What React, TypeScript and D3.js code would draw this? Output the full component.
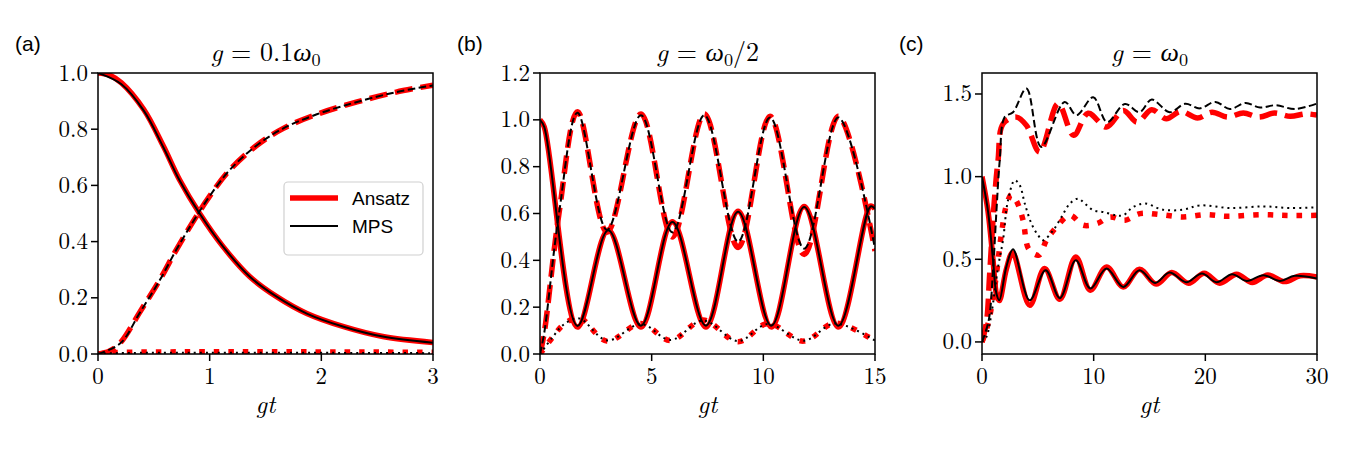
import React from 'react';
import * as d3 from 'd3';

type P = [number, number];

// ---------------- Panel (a): g = 0.1 w0 ----------------
const aXTicks = [0, 1, 2, 3];
const aYTicks = [0, 0.2, 0.4, 0.6, 0.8, 1.0];
const aSolidAnsatz: P[] = [[0, 1.0], [0.1, 0.993], [0.21, 0.965], [0.41, 0.87], [0.585, 0.74], [0.73, 0.62], [0.91, 0.5], [1.12, 0.382], [1.36, 0.275], [1.6, 0.204], [1.87, 0.144], [2.2, 0.097], [2.55, 0.062], [3.0, 0.041]];
const aSolidMps: P[] = [[0, 1.0], [0.21, 0.96], [0.41, 0.866], [0.585, 0.736], [0.73, 0.618], [0.91, 0.5], [1.12, 0.382], [1.36, 0.275], [1.6, 0.204], [1.87, 0.144], [2.2, 0.097], [2.55, 0.062], [3.0, 0.04]];
const aDashedAnsatz: P[] = [[0, 0.0], [0.1, 0.01], [0.2, 0.04], [0.376, 0.15], [0.555, 0.265], [0.7, 0.37], [0.85, 0.47], [1.0, 0.562], [1.18, 0.655], [1.42, 0.742], [1.66, 0.803], [1.96, 0.853], [2.32, 0.897], [2.67, 0.932], [3.0, 0.957]];
const aDashedMps: P[] = [[0, 0.0], [0.2, 0.038], [0.376, 0.148], [0.555, 0.264], [0.7, 0.37], [0.85, 0.47], [1.0, 0.562], [1.18, 0.655], [1.42, 0.742], [1.66, 0.803], [1.96, 0.853], [2.32, 0.897], [2.67, 0.932], [3.0, 0.956]];
const aDottedAnsatz: P[] = [[0, 0.0], [0.15, 0.005], [3.0, 0.006]];
const aDottedMps: P[] = [[0, 0.0], [0.15, 0.003], [3.0, 0.003]];

// ---------------- Panel (b): g = w0/2 ----------------
const bXTicks = [0, 5, 10, 15];
const bYTicks = [0, 0.2, 0.4, 0.6, 0.8, 1.0, 1.2];
const bSolidAnsatz: P[] = [[0, 1.0], [0.19, 0.97], [1.68, 0.115], [3.06, 0.53], [4.52, 0.115], [5.93, 0.565], [7.43, 0.115], [8.87, 0.61], [10.36, 0.115], [11.83, 0.63], [13.36, 0.115], [14.8, 0.632], [15, 0.62]];
const bSolidMps: P[] = [[0, 1.0], [0.19, 0.97], [1.68, 0.12], [3.06, 0.528], [4.52, 0.121], [5.93, 0.564], [7.43, 0.121], [8.87, 0.607], [10.36, 0.121], [11.83, 0.628], [13.36, 0.121], [14.8, 0.63], [15, 0.62]];
const bDashedAnsatz: P[] = [[0, 0.0], [0.19, 0.09], [0.85, 0.6], [1.68, 1.035], [3.0, 0.52], [4.52, 1.025], [5.93, 0.5], [7.36, 1.025], [8.87, 0.455], [10.3, 1.015], [11.83, 0.425], [13.36, 1.015], [15, 0.44]];
const bDashedMps: P[] = [[0, 0.0], [0.19, 0.09], [0.85, 0.6], [1.68, 1.03], [3.0, 0.53], [4.52, 1.02], [5.93, 0.52], [7.36, 1.02], [8.87, 0.48], [10.3, 1.01], [11.83, 0.45], [13.36, 1.01], [15, 0.45]];
const bDottedAnsatz: P[] = [[0, 0.0], [0.55, 0.07], [1.05, 0.125], [1.75, 0.155], [3.0, 0.055], [4.52, 0.13], [5.85, 0.058], [7.3, 0.145], [8.87, 0.052], [10.2, 0.13], [11.8, 0.055], [13.2, 0.132], [15, 0.055]];
const bDottedMps: P[] = [[0, 0.0], [0.55, 0.07], [1.05, 0.125], [1.75, 0.152], [3.0, 0.058], [4.52, 0.128], [5.85, 0.06], [7.3, 0.143], [8.87, 0.055], [10.2, 0.128], [11.8, 0.057], [13.2, 0.13], [15, 0.057]];

// ---------------- Panel (c): g = w0 ----------------
const cXTicks = [0, 10, 20, 30];
const cYTicks = [0, 0.5, 1.0, 1.5];
const cSolidAnsatz: P[] = [[0, 1.0], [0.54, 0.79], [0.99, 0.494], [1.29, 0.29], [1.55, 0.25], [2.18, 0.44], [2.75, 0.54], [4.28, 0.222], [5.6, 0.444], [6.97, 0.258], [8.4, 0.514], [9.7, 0.313], [11.15, 0.454], [12.65, 0.333], [14.1, 0.44], [15.6, 0.35], [17.0, 0.42], [18.5, 0.355], [19.9, 0.415], [21.3, 0.355], [22.8, 0.41], [24.2, 0.36], [25.6, 0.405], [27.1, 0.365], [28.5, 0.4], [30, 0.392]];
const cSolidMps: P[] = [[0, 1.0], [0.54, 0.79], [0.99, 0.494], [1.29, 0.293], [1.55, 0.252], [2.18, 0.454], [2.78, 0.56], [4.27, 0.252], [5.7, 0.434], [6.97, 0.265], [8.4, 0.494], [9.7, 0.323], [11.15, 0.444], [12.65, 0.333], [14.1, 0.434], [15.5, 0.357], [16.8, 0.42], [18.3, 0.361], [19.7, 0.414], [21.0, 0.361], [22.4, 0.41], [23.7, 0.369], [25.2, 0.404], [26.7, 0.369], [28.0, 0.4], [30, 0.384]];
const cDashedAnsatz: P[] = [[0, 0.0], [0.4, 0.12], [0.69, 0.414], [1.1, 0.85], [1.44, 1.1], [1.89, 1.32], [3.08, 1.36], [3.98, 1.31], [5.17, 1.149], [6.82, 1.442], [8.2, 1.25], [9.5, 1.383], [11.15, 1.3], [12.65, 1.4], [13.9, 1.33], [15.2, 1.405], [16.5, 1.35], [17.8, 1.395], [19.3, 1.355], [20.6, 1.39], [22.0, 1.36], [23.4, 1.385], [24.8, 1.36], [26.2, 1.385], [27.6, 1.365], [29.0, 1.38], [30, 1.372]];
const cDashedMps: P[] = [[0, 0.0], [0.6, 0.13], [1.0, 0.45], [1.3, 0.8], [1.59, 1.1], [2.03, 1.36], [2.78, 1.39], [3.98, 1.533], [5.3, 1.18], [7.4, 1.452], [8.46, 1.372], [9.96, 1.48], [11.2, 1.33], [12.8, 1.44], [14.1, 1.39], [15.2, 1.466], [16.8, 1.39], [18.2, 1.441], [19.5, 1.413], [20.9, 1.452], [22.2, 1.409], [23.6, 1.446], [24.9, 1.418], [26.3, 1.432], [28.0, 1.409], [30, 1.442]];
const cDottedAnsatz: P[] = [[0, 0.0], [0.54, 0.11], [1.14, 0.333], [1.74, 0.655], [2.2, 0.83], [2.63, 0.89], [3.1, 0.85], [3.68, 0.736], [4.2, 0.56], [5.1, 0.525], [5.77, 0.615], [6.67, 0.695], [7.87, 0.766], [9.07, 0.706], [10.3, 0.716], [11.45, 0.756], [12.8, 0.736], [14.15, 0.776], [16.0, 0.77], [18.0, 0.756], [20.0, 0.77], [22.0, 0.76], [25.0, 0.77], [27.5, 0.765], [30, 0.766]];
const cDottedMps: P[] = [[0, 0.0], [0.39, 0.03], [0.84, 0.17], [1.44, 0.454], [1.88, 0.615], [2.33, 0.857], [2.93, 0.978], [3.38, 0.948], [3.83, 0.837], [4.43, 0.716], [5.03, 0.645], [5.47, 0.615], [6.37, 0.675], [7.12, 0.756], [7.87, 0.837], [8.61, 0.867], [9.21, 0.837], [9.96, 0.797], [10.85, 0.786], [12.05, 0.766], [12.65, 0.766], [13.55, 0.817], [14.6, 0.837], [16.2, 0.8], [18.0, 0.8], [19.5, 0.826], [22.2, 0.81], [25.2, 0.82], [27.5, 0.81], [30, 0.815]];

const legendLabels = ['Ansatz', 'MPS'];
const panelLabels = ['(a)', '(b)', '(c)'];

// ---------------- layout ----------------
const LEFTS = [98, 540, 982];
const TOP = 73;
const PW = 335;
const PH = 281;
const RED = '#ff0000';
const RED_W = 5.5;
const BLK_W = 2;
const SERIF = '"Latin Modern Roman", "Liberation Serif", serif';
const SANS = '"Liberation Sans", Arial, sans-serif';
const TICK_SIZE = 23;

type Part = { t: string; it?: boolean; sub?: boolean };

const titles: Part[][] = [
  [{ t: 'g', it: true }, { t: ' = 0.1' }, { t: 'ω', it: true }, { t: '0', sub: true }],
  [{ t: 'g', it: true }, { t: ' = ' }, { t: 'ω', it: true }, { t: '0', sub: true }, { t: '/2' }],
  [{ t: 'g', it: true }, { t: ' = ' }, { t: 'ω', it: true }, { t: '0', sub: true }],
];

type PanelDef = {
  xDomain: [number, number];
  yDomain: [number, number];
  xTicks: number[];
  yTicks: number[];
  yFmt: (v: number) => string;
  red: { d: P[]; style: string }[];
  black: { d: P[]; style: string }[];
};

const panels: PanelDef[] = [
  {
    xDomain: [0, 3], yDomain: [0, 1], xTicks: aXTicks, yTicks: aYTicks, yFmt: d3.format('.1f'),
    red: [{ d: aSolidAnsatz, style: 'solid' }, { d: aDashedAnsatz, style: 'dashed' }, { d: aDottedAnsatz, style: 'dotted' }],
    black: [{ d: aSolidMps, style: 'solid' }, { d: aDashedMps, style: 'dashed' }, { d: aDottedMps, style: 'dotted' }],
  },
  {
    xDomain: [0, 15], yDomain: [0, 1.2], xTicks: bXTicks, yTicks: bYTicks, yFmt: d3.format('.1f'),
    red: [{ d: bSolidAnsatz, style: 'solid' }, { d: bDashedAnsatz, style: 'dashed' }, { d: bDottedAnsatz, style: 'dotted' }],
    black: [{ d: bSolidMps, style: 'solid' }, { d: bDashedMps, style: 'dashed' }, { d: bDottedMps, style: 'dotted' }],
  },
  {
    xDomain: [0, 30], yDomain: [-0.073, 1.627], xTicks: cXTicks, yTicks: cYTicks, yFmt: d3.format('.1f'),
    red: [{ d: cSolidAnsatz, style: 'solid' }, { d: cDashedAnsatz, style: 'dashed' }, { d: cDottedAnsatz, style: 'dotted' }],
    black: [{ d: cSolidMps, style: 'solid' }, { d: cDashedMps, style: 'dashed' }, { d: cDottedMps, style: 'dotted' }],
  },
];

function dash(style: string, red: boolean): string | undefined {
  if (style === 'dashed') return red ? '18,8' : '7.5,3.5';
  if (style === 'dotted') return red ? '5.5,9' : '2,4';
  return undefined;
}

const serifStyle = (size: number, italic = false): React.CSSProperties => ({
  fontFamily: SERIF, fontSize: size, fontStyle: italic ? 'italic' : 'normal', whiteSpace: 'pre',
});

function SerifText({ x, y, size, anchor, italic, children }: { x: number; y: number; size: number; anchor: string; italic?: boolean; children: React.ReactNode }) {
  return (
    <text x={x} y={y} textAnchor={anchor} fontFamily={SERIF} style={serifStyle(size, italic)}>
      {children}
    </text>
  );
}

function MathText({ x, y, parts, size }: { x: number; y: number; parts: Part[]; size: number }) {
  const nodes: React.ReactNode[] = [];
  let shifted = false;
  parts.forEach((p, i) => {
    let dy = 0;
    if (p.sub && !shifted) { dy = size * 0.2; shifted = true; }
    else if (!p.sub && shifted) { dy = -size * 0.2; shifted = false; }
    nodes.push(
      <tspan key={i} dy={dy || undefined} style={serifStyle(p.sub ? size * 0.7 : size, !!p.it)}>
        {p.t}
      </tspan>
    );
  });
  return (
    <text x={x} y={y} textAnchor="middle" fontFamily={SERIF} style={serifStyle(size)}>
      {nodes}
    </text>
  );
}

function Panel({ def, idx }: { def: PanelDef; idx: number }) {
  const left = LEFTS[idx];
  const x = d3.scaleLinear().domain(def.xDomain).range([left, left + PW]);
  const y = d3.scaleLinear().domain(def.yDomain).range([TOP + PH, TOP]);
  const line = d3.line<P>().x(d => x(d[0])).y(d => y(d[1])).curve(d3.curveCatmullRom.alpha(0.5));
  const clipId = `clip${idx}`;
  return (
    <g>
      <defs>
        <clipPath id={clipId}>
          <rect x={left} y={TOP} width={PW} height={PH} />
        </clipPath>
      </defs>
      <g clipPath={`url(#${clipId})`}>
        {def.red.map((s, i) => (
          <path key={'r' + i} d={line(s.d) || ''} fill="none" stroke={RED} strokeWidth={RED_W}
            strokeDasharray={dash(s.style, true)} strokeLinejoin="round" />
        ))}
        {def.black.map((s, i) => (
          <path key={'k' + i} d={line(s.d) || ''} fill="none" stroke="#000" strokeWidth={BLK_W}
            strokeDasharray={dash(s.style, false)} strokeLinejoin="round" />
        ))}
      </g>
      <rect x={left} y={TOP} width={PW} height={PH} fill="none" stroke="#000" strokeWidth={1.5} />
      {def.yTicks.map(t => (
        <g key={'y' + t}>
          <line x1={left - 7} x2={left} y1={y(t)} y2={y(t)} stroke="#000" strokeWidth={1.5} />
          <SerifText x={left - 10} y={y(t) + 7.5} size={TICK_SIZE} anchor="end">{def.yFmt(t)}</SerifText>
        </g>
      ))}
      {def.xTicks.map(t => (
        <g key={'x' + t}>
          <line x1={x(t)} x2={x(t)} y1={TOP + PH} y2={TOP + PH + 7} stroke="#000" strokeWidth={1.5} />
          <SerifText x={x(t)} y={384} size={TICK_SIZE} anchor="middle">{String(t)}</SerifText>
        </g>
      ))}
      <SerifText x={left + PW / 2} y={413} size={25} anchor="middle" italic>gt</SerifText>
      <MathText x={left + PW / 2} y={61} parts={titles[idx]} size={26} />
      <text x={left - 83} y={51} style={{ fontFamily: SANS, fontSize: 21 }}>{panelLabels[idx]}</text>
    </g>
  );
}

function Legend() {
  const lx = 284, ly = 182;
  return (
    <g>
      <rect x={lx} y={ly} width={139} height={73} rx={4} fill="#fff" fillOpacity={0.8} stroke="#d0d0d0" strokeWidth={1.2} />
      <line x1={290} x2={338} y1={198} y2={198} stroke={RED} strokeWidth={RED_W} />
      <line x1={290} x2={338} y1={226} y2={226} stroke="#000" strokeWidth={BLK_W} />
      <text x={352} y={205} style={{ fontFamily: SANS, fontSize: 19 }}>{legendLabels[0]}</text>
      <text x={352} y={233} style={{ fontFamily: SANS, fontSize: 19 }}>{legendLabels[1]}</text>
    </g>
  );
}

export default function App() {
  return (
    <svg width={1350} height={450} style={{ position: 'absolute', left: 0, top: 0, background: '#fff' }}>
      <rect x={0} y={0} width={1350} height={450} fill="#fff" />
      {panels.map((p, i) => <Panel key={i} def={p} idx={i} />)}
      <Legend />
    </svg>
  );
}
